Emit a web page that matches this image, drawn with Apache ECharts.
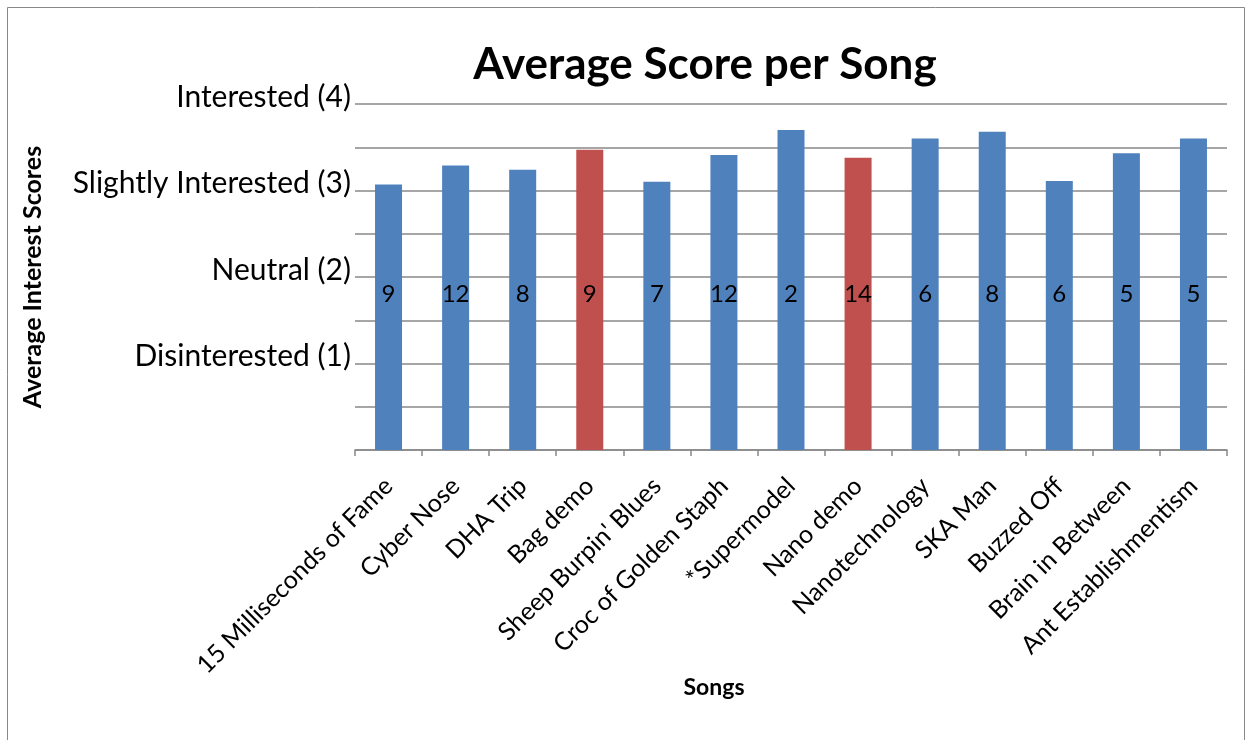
<!DOCTYPE html>
<html>
<head>
<meta charset="utf-8">
<script src="https://cdn.jsdelivr.net/npm/echarts@6/dist/echarts.min.js"></script>
<style>
  html, body { margin: 0; padding: 0; background: #fff; }
  #main { width: 1252px; height: 740px; }
</style>
</head>
<body>
<div id="main"></div>
<script>
// 歌曲名称
var songs = ['15 Milliseconds of Fame', 'Cyber Nose', 'DHA Trip', 'Bag demo', "Sheep Burpin' Blues",
    'Croc of Golden Staph', '*Supermodel', 'Nano demo', 'Nanotechnology', 'SKA Man', 'Buzzed Off',
    'Brain in Between', 'Ant Establishmentism'];
// 平均分
var scores = [3.07, 3.29, 3.24, 3.47, 3.10, 3.41, 3.70, 3.38, 3.60, 3.68, 3.11, 3.43, 3.60];
// 每首歌的人数
var counts = [9, 12, 8, 9, 7, 12, 2, 14, 6, 8, 6, 5, 5];
// demo 用红色
var demos = ['Bag demo', 'Nano demo'];
var yTickLabels = { 1: 'Disinterested (1)', 2: 'Neutral (2)', 3: 'Slightly Interested (3)', 4: 'Interested (4)' };

var font = 'Lato';
var myChart = echarts.init(document.getElementById('main'));

var option = {
    textStyle: { fontFamily: font },
    title: {
        text: 'Average Score per Song',
        left: 700,
        textAlign: 'center',
        top: 38,
        textStyle: { fontFamily: font, fontSize: 44, fontWeight: 'bold', color: '#000' }
    },
    graphic: [{
        type: 'rect',
        shape: { x: 7.5, y: 7.5, width: 1237, height: 760 },
        style: { fill: 'none', stroke: '#888', lineWidth: 1 }
    }],
    grid: { left: 355, right: 25, top: 104, bottom: 290 },
    xAxis: {
        type: 'category',
        data: songs,
        name: 'Songs',
        nameLocation: 'middle',
        nameGap: 226,
        nameMoveOverlap: false,
        nameTextStyle: { fontFamily: font, fontSize: 23, fontWeight: 'bold', color: '#000', padding: [0, 154, 0, 0] },
        axisLine: { lineStyle: { color: '#888', width: 1.5 } },
        axisTick: { show: true, length: 6, lineStyle: { color: '#888', width: 1.5 } },
        axisLabel: { rotate: 45, interval: 0, fontSize: 25, color: '#000', margin: 32 }
    },
    yAxis: {
        type: 'value',
        min: 0,
        max: 4,
        interval: 0.5,
        name: 'Average Interest Scores',
        nameLocation: 'middle',
        nameGap: 310,
        nameRotate: 90,
        nameTextStyle: { fontFamily: font, fontSize: 25, fontWeight: 'bold', color: '#000' },
        axisLine: { show: false },
        axisTick: { show: false },
        axisLabel: {
            fontSize: 30,
            color: '#000',
            margin: 4,
            verticalAlign: 'bottom',
            lineHeight: 14,
            formatter: function (v) { return yTickLabels[v] || ''; }
        },
        splitLine: { lineStyle: { color: '#888', width: 1.5 } }
    },
    series: [{
        name: 'Average Score',
        type: 'bar',
        barWidth: 27,
        data: scores.map(function (v, i) {
            return {
                value: v,
                itemStyle: { color: demos.indexOf(songs[i]) >= 0 ? '#C0504D' : '#4F81BD' }
            };
        }),
        label: {
            show: true,
            position: 'insideBottom',
            distance: 144,
            fontSize: 24,
            color: '#000',
            formatter: function (p) { return counts[p.dataIndex]; }
        }
    }]
};

myChart.setOption(option);
</script>
</body>
</html>
